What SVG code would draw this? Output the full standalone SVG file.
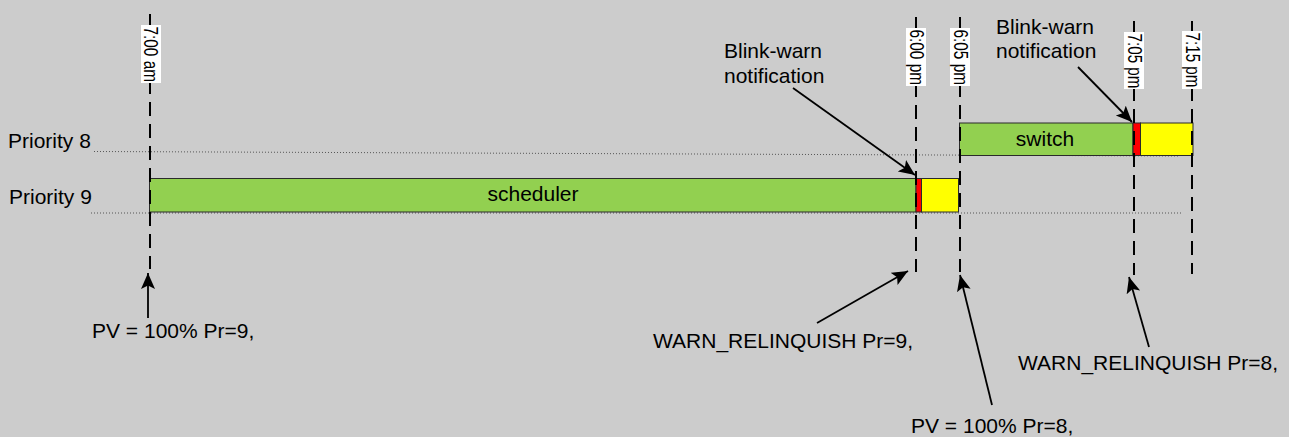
<svg xmlns="http://www.w3.org/2000/svg" width="1289" height="437" viewBox="0 0 1289 437">
  <style>
    text { font-family: "Liberation Sans", Arial, sans-serif; font-size: 21px; fill: #000; }
    .row { stroke: #555; stroke-width: 1; stroke-dasharray: 1 2; fill: none; }
    .tick { stroke: #000; stroke-width: 2; stroke-dasharray: 14 8; fill: none; }
    .tag { fill: #fff; }
    .run { fill: #92d050; stroke: #2a2a2a; stroke-width: 1; }
    .warn { fill: #ff0000; stroke: #2a2a2a; stroke-width: 1; }
    .wait { fill: #ffff00; stroke: #2a2a2a; stroke-width: 1; }
    .arrow { stroke: #000; stroke-width: 1.8; fill: none; marker-end: url(#head); }
  </style>
  <defs>
    <marker id="head" markerUnits="userSpaceOnUse" markerWidth="17" markerHeight="15" refX="16" refY="7" orient="auto">
      <path d="M0,0 L16,7 L0,14 L3.5,7 z" fill="#000"/>
    </marker>
  </defs>

  <rect width="1289" height="437" fill="#cccccc"/>

  <!-- priority rows -->
  <g id="rows">
    <line class="row" x1="94" y1="151.5" x2="1178" y2="156"/>
    <line class="row" x1="91" y1="213" x2="1183" y2="213"/>
    <text x="8" y="148">Priority 8</text>
    <text x="9" y="204">Priority 9</text>
  </g>

  <!-- scheduled run at priority 9 -->
  <g id="scheduler">
    <rect class="run" x="149.5" y="178.5" width="766.5" height="33.5"/>
    <rect class="warn" x="916" y="178.5" width="5.5" height="33.5"/>
    <rect class="wait" x="921.5" y="178.5" width="37" height="33.5"/>
    <text x="533" y="201" text-anchor="middle">scheduler</text>
  </g>

  <!-- switch run at priority 8 -->
  <g id="switch">
    <rect class="run" x="959.5" y="123" width="173.5" height="32.5"/>
    <rect class="warn" x="1133" y="123" width="7.5" height="32.5"/>
    <rect class="wait" x="1140.5" y="123" width="52.5" height="32.5"/>
    <text x="1045" y="145.5" text-anchor="middle">switch</text>
  </g>

  <!-- time markers -->
  <g id="t0700">
    <line class="tick" x1="150" y1="14" x2="150" y2="269"/>
    <rect class="tag" x="141" y="25" width="20" height="58"/>
    <text transform="translate(144,26.5) rotate(90)" textLength="55.5" lengthAdjust="spacingAndGlyphs">7:00 am</text>
  </g>
  <g id="t1800">
    <line class="tick" x1="916" y1="17" x2="916" y2="272"/>
    <rect class="tag" x="906" y="28" width="20" height="58"/>
    <text transform="translate(910,29.5) rotate(90)" textLength="55.5" lengthAdjust="spacingAndGlyphs">6:00 pm</text>
  </g>
  <g id="t1805">
    <line class="tick" x1="960" y1="17" x2="960" y2="272"/>
    <rect class="tag" x="950" y="28" width="20" height="58"/>
    <text transform="translate(954,29.5) rotate(90)" textLength="55.5" lengthAdjust="spacingAndGlyphs">6:05 pm</text>
  </g>
  <g id="t1905">
    <line class="tick" x1="1134" y1="21" x2="1134" y2="275"/>
    <rect class="tag" x="1124" y="32" width="20" height="57"/>
    <text transform="translate(1128,33.5) rotate(90)" textLength="55" lengthAdjust="spacingAndGlyphs">7:05 pm</text>
  </g>
  <g id="t1915">
    <line class="tick" x1="1192" y1="21" x2="1192" y2="274"/>
    <rect class="tag" x="1182" y="31" width="20" height="58"/>
    <text transform="translate(1186,32.5) rotate(90)" textLength="55" lengthAdjust="spacingAndGlyphs">7:15 pm</text>
  </g>

  <!-- event labels -->
  <g id="blink1">
    <text x="724" y="58">Blink-warn</text>
    <text x="724" y="82.5">notification</text>
  </g>
  <g id="blink2">
    <text x="996" y="34">Blink-warn</text>
    <text x="996" y="58">notification</text>
  </g>
  <g id="pv9"><text x="92" y="338">PV = 100% Pr=9,</text></g>
  <g id="relinquish9"><text x="653" y="348">WARN_RELINQUISH Pr=9,</text></g>
  <g id="pv8"><text x="911" y="433">PV = 100% Pr=8,</text></g>
  <g id="relinquish8"><text x="1018" y="370">WARN_RELINQUISH Pr=8,</text></g>

  <!-- connectors -->
  <g id="connectors">
    <line class="arrow" x1="793" y1="88" x2="915" y2="175"/>
    <line class="arrow" x1="1078" y1="67" x2="1132" y2="122"/>
    <line class="arrow" x1="148" y1="318" x2="148" y2="273"/>
    <line class="arrow" x1="817" y1="323" x2="908" y2="271"/>
    <line class="arrow" x1="992" y1="405" x2="960" y2="275"/>
    <line class="arrow" x1="1149" y1="347" x2="1129" y2="277"/>
  </g>
</svg>
